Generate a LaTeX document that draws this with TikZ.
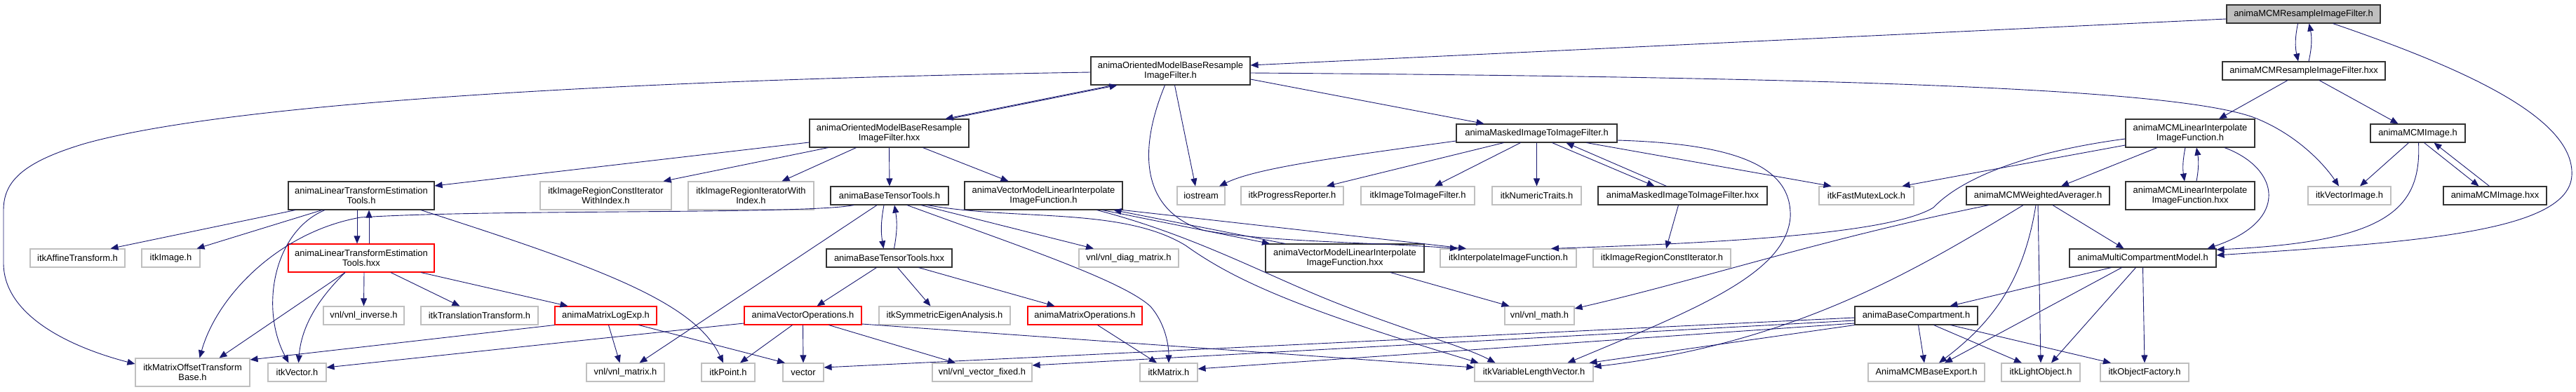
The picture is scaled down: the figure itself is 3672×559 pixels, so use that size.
\documentclass[tikz,border=0pt]{standalone}
\usepackage{fontspec}
\setmainfont{Liberation Sans}
\usetikzlibrary{arrows.meta}
\definecolor{edgec}{HTML}{191970}
\definecolor{grayb}{HTML}{BFBFBF}
\definecolor{darkb}{HTML}{333333}
\begin{document}
\begin{tikzpicture}[x=1pt,y=-1pt,
  nd/.style={rectangle,inner sep=0pt,align=center,font=\fontsize{12.9}{14.2}\selectfont,line width=1.1pt,fill=white},
  nb/.style={nd,draw=darkb},
  ng/.style={nd,draw=grayb},
  nr/.style={nd,draw=red},
  ntop/.style={nd,draw=darkb,fill=grayb},
  sz/.style 2 args={minimum width=#1pt,minimum height=#2pt},
  ed/.style={draw=edgec,line width=0.9pt,-{Triangle[length=11pt,width=9pt]}}
]
\useasboundingbox (0,0) rectangle (3672,559);
% row 0
\node[ntop,sz={219}{26}] (R) at (3283.5,20) {animaMCMResampleImageFilter.h};
% row 1
\node[nb,sz={227}{40}] (OMh) at (1668.5,101) {animaOrientedModelBaseResample\\ImageFilter.h};
\node[nb,sz={232}{26}] (Rhxx) at (3284,101) {animaMCMResampleImageFilter.hxx};
% row 2
\node[nb,sz={227}{40}] (OMhxx) at (1267.5,190) {animaOrientedModelBaseResample\\ImageFilter.hxx};
\node[nb,sz={229}{26}] (MI) at (2190.5,190) {animaMaskedImageToImageFilter.h};
\node[nb,sz={184}{40}] (MLI) at (3122,190) {animaMCMLinearInterpolate\\ImageFunction.h};
\node[nb,sz={135}{26}] (MCMI) at (3446.5,190) {animaMCMImage.h};
% row 3
\node[nb,sz={208}{40}] (LTE) at (515,279) {animaLinearTransformEstimation\\Tools.h};
\node[ng,sz={187}{40}] (IRCIWI) at (863.5,279) {itkImageRegionConstIterator\\WithIndex.h};
\node[ng,sz={179}{40}] (IRIWI) at (1070.5,279) {itkImageRegionIteratorWith\\Index.h};
\node[nb,sz={168}{26}] (BTT) at (1268,279) {animaBaseTensorTools.h};
\node[nb,sz={225}{40}] (VM) at (1487.5,279) {animaVectorModelLinearInterpolate\\ImageFunction.h};
\node[ng,sz={68}{26}] (IOS) at (1712,279) {iostream};
\node[ng,sz={146}{26}] (IPR) at (1842,279) {itkProgressReporter.h};
\node[ng,sz={162}{26}] (IITIF) at (2021,279) {itkImageToImageFilter.h};
\node[ng,sz={127}{26}] (INT) at (2190.5,279) {itkNumericTraits.h};
\node[nb,sz={241}{26}] (MIhxx) at (2398.5,279) {animaMaskedImageToImageFilter.hxx};
\node[ng,sz={135}{26}] (IFML) at (2660.5,279) {itkFastMutexLock.h};
\node[nb,sz={204}{26}] (WA) at (2905,279) {animaMCMWeightedAverager.h};
\node[nb,sz={184}{40}] (MLIhxx) at (3122,279) {animaMCMLinearInterpolate\\ImageFunction.hxx};
\node[ng,sz={118}{26}] (IVI) at (3349,279) {itkVectorImage.h};
\node[nb,sz={147}{26}] (MCMIhxx) at (3556.5,279) {animaMCMImage.hxx};
% row 4
\node[nr,sz={208}{40}] (LTEhxx) at (515,368) {animaLinearTransformEstimation\\Tools.hxx};
\node[ng,sz={135}{26}] (IAT) at (110.5,368) {itkAffineTransform.h};
\node[ng,sz={83}{26}] (IImg) at (243.5,368) {itkImage.h};
\node[nb,sz={179}{26}] (BTThxx) at (1267.5,368) {animaBaseTensorTools.hxx};
\node[ng,sz={142}{26}] (VDM) at (1609,368) {vnl/vnl\_diag\_matrix.h};
\node[nb,sz={226}{40}] (VMhxx) at (1917,368) {animaVectorModelLinearInterpolate\\ImageFunction.hxx};
\node[ng,sz={194}{26}] (IIF) at (2150,368) {itkInterpolateImageFunction.h};
\node[ng,sz={196}{26}] (IRCI) at (2369,368) {itkImageRegionConstIterator.h};
\node[nb,sz={209}{26}] (MCM) at (3054.5,368) {animaMultiCompartmentModel.h};
% row 5
\node[ng,sz={115}{26}] (VInv) at (518.5,450) {vnl/vnl\_inverse.h};
\node[ng,sz={167}{26}] (ITT) at (683.5,450) {itkTranslationTransform.h};
\node[nr,sz={145}{26}] (MLE) at (863.5,450) {animaMatrixLogExp.h};
\node[nr,sz={167}{26}] (VO) at (1144.5,450) {animaVectorOperations.h};
\node[ng,sz={187}{26}] (ISEA) at (1346.5,450) {itkSymmetricEigenAnalysis.h};
\node[nr,sz={163}{26}] (MO) at (1546.5,450) {animaMatrixOperations.h};
\node[ng,sz={99}{26}] (VMath) at (2194.5,450) {vnl/vnl\_math.h};
\node[nb,sz={175}{26}] (BC) at (2731.5,450) {animaBaseCompartment.h};
% row 6
\node[ng,sz={163}{40}] (IMOTB) at (274.5,531) {itkMatrixOffsetTransform\\Base.h};
\node[ng,sz={83}{26}] (IV) at (423.5,531) {itkVector.h};
\node[ng,sz={111}{26}] (VMat) at (891.5,531) {vnl/vnl\_matrix.h};
\node[ng,sz={76}{26}] (IP) at (1038,531) {itkPoint.h};
\node[ng,sz={58}{26}] (vec) at (1145,531) {vector};
\node[ng,sz={142}{26}] (VVF) at (1400,531) {vnl/vnl\_vector\_fixed.h};
\node[ng,sz={82}{26}] (IM) at (1666,531) {itkMatrix.h};
\node[ng,sz={169}{26}] (IVLV) at (2186.5,531) {itkVariableLengthVector.h};
\node[ng,sz={166}{26}] (AMBE) at (2746,531) {AnimaMCMBaseExport.h};
\node[ng,sz={112}{26}] (ILO) at (2909,531) {itkLightObject.h};
\node[ng,sz={126}{26}] (IOF) at (3057,531) {itkObjectFactory.h};

% ---- edges ----
% R
\draw[ed] ([yshift=-7pt]R.west) -- ([yshift=8pt]OMh.east);
\draw[ed] ([xshift=-8pt]R.south) to[bend right=12] ([xshift=-8pt]Rhxx.north);
\draw[ed] ([xshift=7pt]Rhxx.north) to[bend right=12] ([xshift=8pt]R.south);
\draw[ed] ([xshift=42pt]R.south) .. controls (3520,100) and (3670,170) .. (3666,250) .. controls (3662,330) and (3450,345) .. ([yshift=4pt]MCM.east);
% Rhxx
\draw[ed] ([xshift=-23pt]Rhxx.south) -- ([xshift=41pt]MLI.north);
\draw[ed] ([xshift=22pt]Rhxx.south) -- ([xshift=-28pt]MCMI.north);
% OMh
\draw[ed] ([xshift=-82pt]OMh.south) -- ([xshift=80pt]OMhxx.north);
\draw[ed] ([xshift=86pt]OMhxx.north) -- ([xshift=-76pt]OMh.south);
\draw[ed] ([yshift=-2pt]OMh.west) .. controls (1000,112) and (350,140) .. (120,205) .. controls (30,232) and (5,260) .. (5,300) -- (5,375) .. controls (5,450) and (100,495) .. ([yshift=12pt]IMOTB.west);
\draw[ed] ([xshift=6pt]OMh.south) -- ([xshift=-8pt]IOS.north);
\draw[ed] ([xshift=-8pt]OMh.south) .. controls (1620,220) and (1630,300) .. (1714,328) .. controls (1800,345) and (1950,345) .. ([xshift=-72pt]IIF.north);
\draw[ed] ([yshift=-12pt]OMh.east) -- ([xshift=-75pt]MI.north);
\draw[ed] ([yshift=-3pt]OMh.east) .. controls (2600,110) and (3100,125) .. (3214,168) .. controls (3270,190) and (3310,230) .. ([xshift=-15pt]IVI.north);
% OMhxx
\draw[ed] ([yshift=-13pt]OMhxx.west) -- ([yshift=14pt]LTE.east);
\draw[ed] ([xshift=-87pt]OMhxx.south) -- ([xshift=82pt]IRCIWI.north);
\draw[ed] ([xshift=-47pt]OMhxx.south) -- ([xshift=44pt]IRIWI.north);
\draw[ed] (OMhxx.south) -- (BTT.north);
\draw[ed] ([xshift=48pt]OMhxx.south) -- ([xshift=-50pt]VM.north);
% LTE
\draw[ed] ([xshift=-94pt]LTE.south) -- ([xshift=47pt]IAT.north);
\draw[ed] ([xshift=-56pt]LTE.south) -- ([xshift=37pt]IImg.north);
\draw[ed] ([xshift=-52pt]LTE.south) .. controls (390,330) and (370,440) .. ([xshift=-12pt]IV.north);
\draw[ed] ([xshift=-6pt]LTE.south) -- ([xshift=-6pt]LTEhxx.north);
\draw[ed] ([xshift=11pt]LTEhxx.north) -- ([xshift=11pt]LTE.south);
\draw[ed] ([xshift=85pt]LTE.south) .. controls (850,380) and (990,430) .. ([xshift=-7pt]IP.north);
% LTEhxx
\draw[ed] ([xshift=4pt]LTEhxx.south) -- (VInv.north);
\draw[ed] ([xshift=42pt]LTEhxx.south) -- ([xshift=-28pt]ITT.north);
\draw[ed] ([xshift=85pt]LTEhxx.south) -- ([xshift=-54pt]MLE.north);
\draw[ed] ([xshift=-23pt]LTEhxx.south) -- ([xshift=38pt]IMOTB.north);
\draw[ed] ([xshift=-23pt]LTEhxx.south) .. controls (460,420) and (430,460) .. ([xshift=2pt]IV.north);
% MLE
\draw[ed] ([xshift=4pt]MLE.south) -- ([xshift=-8pt]VMat.north);
\draw[ed] ([xshift=47pt]MLE.south) -- ([xshift=-26pt]vec.north);
\draw[ed] (MLE.south west) -- ([yshift=18pt]IMOTB.east);
% VO
\draw[ed] ([yshift=-11pt]VO.west) -- ([yshift=7pt]IV.east);
\draw[ed] ([xshift=-15pt]VO.south) -- ([xshift=17pt]IP.north);
\draw[ed] (VO.south) -- (vec.north);
\draw[ed] ([xshift=37pt]VO.south) -- ([xshift=-38pt]VVF.north);
\draw[ed] ([yshift=-12pt]VO.east) -- ([yshift=7pt]IVLV.west);
% BTT
\draw[ed] ([xshift=-51pt]BTT.south) .. controls (1150,306) and (700,298) .. (514,310) .. controls (400,330) and (310,420) .. ([xshift=10pt]IMOTB.north);
\draw[ed] ([xshift=-8pt]BTT.south) to[bend right=10] ([xshift=-8pt]BTThxx.north);
\draw[ed] ([xshift=7pt]BTThxx.north) to[bend right=10] ([xshift=7pt]BTT.south);
\draw[ed] ([xshift=-18pt]BTT.south) -- ([xshift=20pt]VMat.north);
\draw[ed] ([xshift=25pt]BTT.south) .. controls (1450,350) and (1600,400) .. (1640,437) .. controls (1660,460) and (1666,490) .. (IM.north);
\draw[ed] ([xshift=45pt]BTT.south) -- ([xshift=-50pt]VDM.north);
\draw[ed] ([xshift=54pt]BTT.south) .. controls (1450,315) and (1600,295) .. (1690,350) .. controls (1760,400) and (1850,440) .. ([xshift=-79pt]IVLV.north);
% BTThxx
\draw[ed] ([xshift=-18pt]BTThxx.south) -- ([xshift=20pt]VO.north);
\draw[ed] ([xshift=12pt]BTThxx.south) -- ([xshift=-20pt]ISEA.north);
\draw[ed] ([xshift=42pt]BTThxx.south) -- ([xshift=-43pt]MO.north);
\draw[ed] ([xshift=18pt]MO.south) -- ([xshift=-17pt]IM.north);
% VM
\draw[ed] ([xshift=84pt]VM.south) -- ([xshift=-107pt]VMhxx.north);
\draw[ed] ([xshift=-85pt]VMhxx.north) -- ([xshift=100pt]VM.south);
\draw[ed] (VM.south east) -- ([xshift=-60pt]IIF.north);
\draw[ed] ([xshift=76pt]VM.south) .. controls (1700,335) and (1800,390) .. (1900,430) .. controls (2000,470) and (2090,495) .. ([xshift=-55pt]IVLV.north);
\draw[ed] ([xshift=65pt]VMhxx.south) -- ([xshift=-43pt]VMath.north);
% MI
\draw[ed] ([xshift=-47pt]MI.south) -- ([xshift=49pt]IPR.north);
\draw[ed] ([xshift=-23pt]MI.south) -- ([xshift=24pt]IITIF.north);
\draw[ed] (MI.south) -- (INT.north);
\draw[ed] ([xshift=22pt]MI.south) -- ([xshift=-40pt]MIhxx.north);
\draw[ed] ([xshift=-23pt]MIhxx.north) -- ([xshift=42pt]MI.south);
\draw[ed] ([yshift=-11pt]MI.west) .. controls (1900,225) and (1790,240) .. ([xshift=26pt]IOS.north);
\draw[ed] ([xshift=71pt]MI.south) -- ([xshift=-50pt]IFML.north);
\draw[ed] ([yshift=-10pt]MI.east) .. controls (2470,205) and (2555,235) .. (2552,310) .. controls (2545,390) and (2420,440) .. ([xshift=48pt]IVLV.north);
\draw[ed] ([xshift=-6pt]MIhxx.south) -- ([xshift=6pt]IRCI.north);
% MLI
\draw[ed] ([yshift=-17pt]MLI.west) -- ([xshift=51pt]IFML.north);
\draw[ed] ([yshift=-8pt]MLI.west) .. controls (2900,215) and (2800,250) .. (2756,296) .. controls (2700,330) and (2500,345) .. ([xshift=61pt]IIF.north);
\draw[ed] ([xshift=-47pt]MLI.south) -- ([xshift=33pt]WA.north);
\draw[ed] ([xshift=-7pt]MLI.south) to[bend right=10] ([xshift=-8pt]MLIhxx.north);
\draw[ed] ([xshift=9pt]MLIhxx.north) to[bend right=10] ([xshift=9pt]MLI.south);
\draw[ed] ([xshift=49pt]MLI.south) .. controls (3250,240) and (3265,315) .. ([xshift=92pt]MCM.north);
% MCMI
\draw[ed] ([xshift=-13pt]MCMI.south) -- ([xshift=15pt]IVI.north);
\draw[ed] ([xshift=1pt]MCMI.south) .. controls (3452,300) and (3400,345) .. ([yshift=12pt]MCM.east);
\draw[ed] ([xshift=9pt]MCMI.south) -- ([xshift=-23pt]MCMIhxx.north);
\draw[ed] ([xshift=-8pt]MCMIhxx.north) -- ([xshift=23pt]MCMI.south);
% WA
\draw[ed] ([xshift=-70pt]WA.south) .. controls (2600,340) and (2420,400) .. ([yshift=10pt]VMath.east);
\draw[ed] ([xshift=-21pt]WA.south) .. controls (2740,380) and (2560,490) .. ([yshift=8pt]IVLV.east);
\draw[ed] ([xshift=-3pt]WA.south) .. controls (2885,400) and (2840,460) .. ([xshift=18pt]AMBE.north);
\draw[ed] (WA.south) -- (ILO.north);
\draw[ed] ([xshift=21pt]WA.south) -- ([xshift=-27pt]MCM.north);
% MCM
\draw[ed] ([xshift=-45pt]MCM.south) -- ([xshift=48pt]BC.north);
\draw[ed] ([xshift=-30pt]MCM.south) -- ([xshift=26pt]AMBE.north);
\draw[ed] ([xshift=-10pt]MCM.south) -- ([xshift=15pt]ILO.north);
\draw[ed] (MCM.south) -- (IOF.north);
% BC
\draw[ed] ([xshift=3pt]BC.south) -- ([xshift=-3pt]AMBE.north);
\draw[ed] ([xshift=25pt]BC.south) -- ([xshift=-27pt]ILO.north);
\draw[ed] ([xshift=49pt]BC.south) -- ([xshift=-48pt]IOF.north);
\draw[ed] ([yshift=-3pt]BC.west) -- ([yshift=7pt]vec.east);
\draw[ed] ([yshift=-7pt]BC.west) -- ([yshift=10pt]VVF.east);
\draw[ed] ([yshift=-11pt]BC.west) -- ([yshift=5pt]IM.east);
\draw[ed] (BC.south west) -- ([xshift=-6pt]IVLV.north east);
\end{tikzpicture}
\end{document}
